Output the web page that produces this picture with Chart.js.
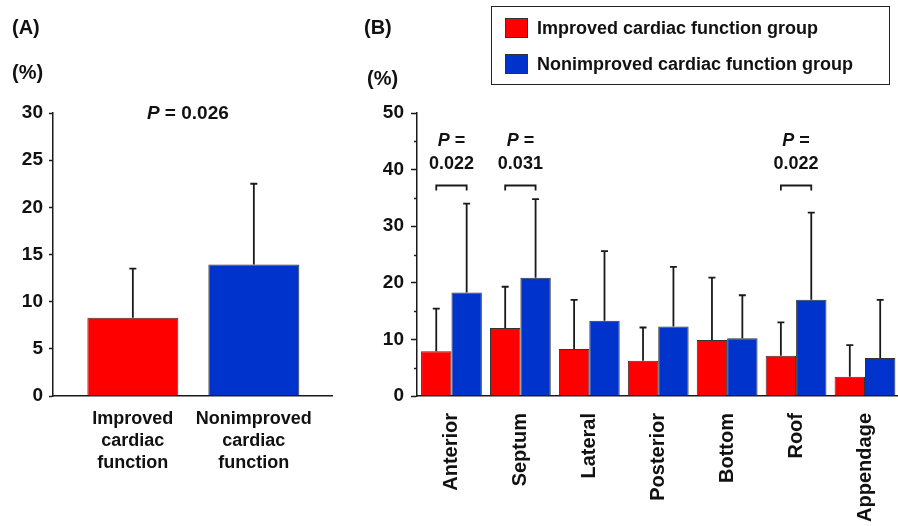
<!DOCTYPE html>
<html lang="en">
<head>
<meta charset="UTF-8" />
<title>Improved vs nonimproved cardiac function</title>
<script src="https://cdn.jsdelivr.net/npm/chart.js@4.4.1/dist/chart.umd.min.js"></script>
<style>
  body { margin: 0; background: #fff; width: 898px; height: 526px; overflow: hidden; position: relative;
         font-family: 'Liberation Sans', Arial, sans-serif; font-weight: bold; color: #111; }
  .txt { position: absolute; white-space: nowrap; line-height: 20px; }
  .big { font-size: 20px; }
  .leg { font-size: 18px; }
  .sw { position: absolute; width: 23px; height: 20px; box-sizing: border-box; border: 1px solid #333; }
  #chartA { position: absolute; left: 0; top: 0; }
  #chartB { position: absolute; left: 345px; top: 0; }
  #legendBox { position: absolute; left: 491px; top: 6px; width: 399px; height: 79px;
               box-sizing: border-box; border: 1.5px solid #222; }
</style>
</head>
<body>
  <canvas id="chartA" width="345" height="526"></canvas>
  <canvas id="chartB" width="561" height="526"></canvas>

  <div class="txt big" style="left:12px; top:17px;">(A)</div>
  <div class="txt big" style="left:12px; top:62px;">(%)</div>
  <div class="txt big" style="left:364px; top:17px;">(B)</div>
  <div class="txt big" style="left:367px; top:68px;">(%)</div>

  <div id="legendBox"></div>
  <div id="legend"></div>

<script>
// panel A
const labelsA = [['Improved', 'cardiac', 'function'], ['Nonimproved', 'cardiac', 'function']];
const meanA = [8.3, 13.95];
const sdA = [5.2, 8.55];
const pA = '0.026';
const yTicksA = [0, 5, 10, 15, 20, 25, 30];

// panel B
const groupNames = ['Improved cardiac function group', 'Nonimproved cardiac function group'];
const regionsB = ['Anterior', 'Septum', 'Lateral', 'Posterior', 'Bottom', 'Roof', 'Appendage'];
const improvedB = [7.9, 12.0, 8.3, 6.25, 9.9, 7.1, 3.4];
const improvedSdB = [7.55, 7.3, 8.7, 5.85, 11.0, 5.9, 5.6];
const nonimprovedB = [18.3, 20.9, 13.3, 12.3, 10.2, 17.0, 6.7];
const nonimprovedSdB = [15.7, 13.9, 12.3, 10.5, 7.6, 15.4, 10.3];
const pIndexB = [0, 1, 5];
const pValuesB = ['0.022', '0.031', '0.022'];
const yTicksB = [0, 10, 20, 30, 40, 50];

const colors = ['#ff0000', '#0033cc'];
const ink = '#1a1a1a';
const FONT = "'Liberation Sans', Arial, sans-serif";

Chart.defaults.font.family = FONT;
Chart.defaults.font.weight = 'bold';
Chart.defaults.color = '#111';

// legend (html)
const legend = document.getElementById('legend');
groupNames.forEach((name, i) => {
  const top = i === 0 ? 17.5 : 54;
  legend.insertAdjacentHTML('beforeend',
    `<div class="sw" style="left:505px; top:${top}px; background:${colors[i]}"></div>` +
    `<div class="txt leg" style="left:537px; top:${top}px;">${name}</div>`);
});

// major ticks from the list, a minor one half way between each pair
function withMinors(majors) {
  return s => {
    const t = [];
    majors.forEach((v, i) => {
      t.push({ value: v });
      if (i < majors.length - 1) t.push({ value: (v + majors[i + 1]) / 2 });
    });
    s.ticks = t;
  };
}

function yAxis(majors, width, tickLen, pad) {
  return {
    min: majors[0], max: majors[majors.length - 1],
    afterBuildTicks: withMinors(majors),
    afterFit: s => { s.width = width; },
    border: { color: ink, width: 1.5 },
    grid: {
      drawOnChartArea: false, tickLength: tickLen, tickWidth: 1.5,
      tickColor: c => majors.includes(c.tick.value) ? ink : 'rgba(0,0,0,0)'
    },
    ticks: {
      padding: pad, color: '#111', font: { size: 19, weight: 'bold' },
      callback: v => majors.includes(v) ? v : ''
    }
  };
}

const minorTicks = {
  id: 'minorTicks',
  afterDraw(chart, args, opts) {
    const y = chart.scales.y, ctx = chart.ctx;
    ctx.save();
    ctx.strokeStyle = ink; ctx.lineWidth = 1.5;
    y.ticks.forEach(t => {
      if (opts.majors.includes(t.value)) return;
      const py = Math.round(y.getPixelForValue(t.value)) + 0.5;
      ctx.beginPath(); ctx.moveTo(y.right - opts.len, py); ctx.lineTo(y.right, py); ctx.stroke();
    });
    ctx.restore();
  }
};

const errorBars = {
  id: 'errorBars',
  afterDatasetsDraw(chart) {
    const ctx = chart.ctx, y = chart.scales.y;
    ctx.save();
    ctx.strokeStyle = ink; ctx.lineWidth = 1.8;
    chart.data.datasets.forEach((ds, di) => {
      const meta = chart.getDatasetMeta(di);
      meta.data.forEach((bar, i) => {
        const v = meta.controller.getParsed(i).y;
        const top = y.getPixelForValue(v + ds.sd[i]);
        ctx.beginPath();
        ctx.moveTo(bar.x, bar.y); ctx.lineTo(bar.x, top);
        ctx.moveTo(bar.x - 3.5, top); ctx.lineTo(bar.x + 3.5, top);
        ctx.stroke();
      });
    });
    ctx.restore();
  }
};

// "P = value" with italic P, centred on cx
function drawP(ctx, cx, cy, rest, size) {
  ctx.textBaseline = 'middle';
  ctx.textAlign = 'left';
  ctx.font = `italic bold ${size}px ${FONT}`;
  const wP = ctx.measureText('P').width;
  ctx.font = `bold ${size}px ${FONT}`;
  const wR = ctx.measureText(rest).width;
  const x0 = cx - (wP + wR) / 2;
  ctx.fillStyle = '#111';
  ctx.font = `italic bold ${size}px ${FONT}`;
  ctx.fillText('P', x0, cy);
  ctx.font = `bold ${size}px ${FONT}`;
  ctx.fillText(rest, x0 + wP, cy);
}

const pLabelA = {
  id: 'pLabelA',
  afterDraw(chart) {
    const bars = chart.getDatasetMeta(0).data;
    const cx = (bars[0].x + bars[1].x) / 2 - 5.5;
    chart.ctx.save();
    drawP(chart.ctx, cx, chart.chartArea.top + 1, ' = ' + pA, 19);
    chart.ctx.restore();
  }
};

const pBracketsB = {
  id: 'pBracketsB',
  afterDatasetsDraw(chart) {
    const ctx = chart.ctx, y = chart.scales.y;
    const m0 = chart.getDatasetMeta(0), m1 = chart.getDatasetMeta(1);
    ctx.save();
    pIndexB.forEach((ci, k) => {
      const x0 = m0.data[ci].x, x1 = m1.data[ci].x;
      const yb = Math.round(y.getPixelForValue(37.2)) + 0.5;
      ctx.strokeStyle = ink; ctx.lineWidth = 1.8;
      ctx.beginPath();
      ctx.moveTo(x0, yb + 5); ctx.lineTo(x0, yb); ctx.lineTo(x1, yb); ctx.lineTo(x1, yb + 5);
      ctx.stroke();
      const cx = (x0 + x1) / 2;
      drawP(ctx, cx, yb - 44, ' =', 18);
      ctx.font = `bold 18px ${FONT}`;
      ctx.textAlign = 'center';
      ctx.fillText(pValuesB[k], cx, yb - 21);
    });
    ctx.restore();
  }
};

// ---- chart A
new Chart(document.getElementById('chartA'), {
  type: 'bar',
  data: {
    datasets: [{
      data: meanA.map((v, i) => ({ x: i, y: v })),
      sd: sdA,
      backgroundColor: colors,
      borderColor: '#333',
      borderWidth: 1,
      barPercentage: 1,
      categoryPercentage: 0.752
    }]
  },
  options: {
    responsive: false, animation: false, events: [],
    layout: { padding: { top: 113, right: 13, left: 0, bottom: 0 } },
    plugins: { legend: { display: false }, tooltip: { enabled: false }, minorTicks: { majors: yTicksA, len: 2.5 } },
    scales: {
      x: {
        type: 'linear', min: -0.66, max: 1.646, offset: false,
        afterBuildTicks: s => { s.ticks = labelsA.map((l, i) => ({ value: i })); },
        afterFit: s => { s.height = 130; },
        grid: { display: false, drawTicks: false },
        border: { color: ink, width: 1.5 },
        ticks: { padding: 12, color: '#111', font: { size: 18, weight: 'bold', lineHeight: 1.22 },
                 callback: v => labelsA[v] }
      },
      y: yAxis(yTicksA, 53, 4, 6)
    }
  },
  plugins: [errorBars, minorTicks, pLabelA]
});

// ---- chart B
new Chart(document.getElementById('chartB'), {
  type: 'bar',
  data: {
    labels: regionsB,
    datasets: [
      { label: groupNames[0], data: improvedB, sd: improvedSdB, backgroundColor: colors[0],
        borderColor: '#333', borderWidth: 1, barPercentage: 1, categoryPercentage: 0.882 },
      { label: groupNames[1], data: nonimprovedB, sd: nonimprovedSdB, backgroundColor: colors[1],
        borderColor: '#333', borderWidth: 1, barPercentage: 1, categoryPercentage: 0.882 }
    ]
  },
  options: {
    responsive: false, animation: false, events: [],
    layout: { padding: { top: 113, right: 0, left: 0, bottom: 0 } },
    plugins: { legend: { display: false }, tooltip: { enabled: false }, minorTicks: { majors: yTicksB, len: 3 } },
    scales: {
      x: {
        offset: true,
        afterFit: s => { s.height = 130; },
        grid: { display: false, drawTicks: false },
        border: { color: ink, width: 1.5 },
        ticks: { padding: 17, autoSkip: false, minRotation: 90, maxRotation: 90, color: '#111',
                 font: { size: 20, weight: 'bold' } }
      },
      y: yAxis(yTicksB, 72, 6, 7)
    }
  },
  plugins: [errorBars, minorTicks, pBracketsB]
});
</script>
</body>
</html>
